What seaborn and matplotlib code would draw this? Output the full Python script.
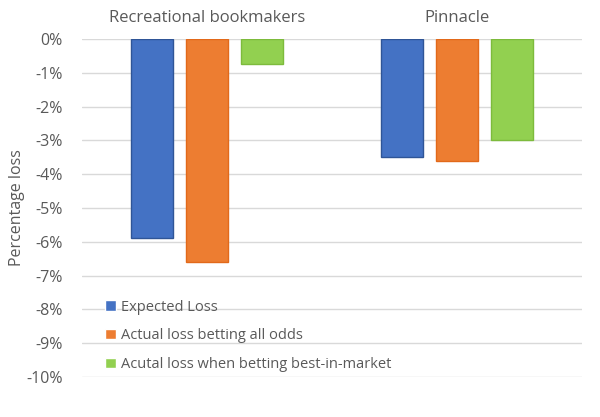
import pandas as pd
import seaborn as sns
import matplotlib.pyplot as plt
from matplotlib.ticker import FuncFormatter

groups = ['Recreational bookmakers', 'Pinnacle']
series = ['Expected Loss', 'Actual loss betting all odds', 'Acutal loss when betting best-in-market']
expected_loss = [-5.9, -3.5]
actual_loss = [-6.6, -3.6]
best_loss = [-0.75, -3.0]

colors = ['#4472C4', '#ED7D31', '#92D050']
edges = ['#2F5597', '#E2691A', '#7DBB3C']

rows = []
for name, vals in zip(series, [expected_loss, actual_loss, best_loss]):
    for g, v in zip(groups, vals):
        rows.append({'group': g, 'series': name, 'loss': v})
df = pd.DataFrame(rows)

sns.set_style('white')
plt.rcParams['font.family'] = ['Open Sans', 'DejaVu Sans']
text_col = '#595959'

fig = plt.figure(figsize=(6, 4.17), dpi=100)
ax = fig.add_axes([0.137, 0.096, 0.833, 0.8105])

sns.barplot(data=df, x='group', y='loss', hue='series', palette=colors,
            saturation=1, width=0.66, gap=0.24, ax=ax, linewidth=1)
for cont, ec in zip(ax.containers, edges):
    for bar in cont:
        bar.set_edgecolor(ec)

ax.set_ylim(-10, 0)
ax.set_yticks(range(-10, 1))
ax.yaxis.set_major_formatter(FuncFormatter(lambda v, p: f'{int(round(v))}%'))
ax.grid(axis='y', color='#d9d9d9', linewidth=1)
ax.set_axisbelow(True)
ax.xaxis.tick_top()
ax.tick_params(axis='x', length=0, pad=9, labelsize=12, colors=text_col)
ax.tick_params(axis='y', length=0, pad=14, labelsize=11.5, colors=text_col)
for s in ax.spines.values():
    s.set_visible(False)
ax.set_xlabel('')
ax.set_ylabel('Percentage loss', fontsize=11.5, color=text_col, labelpad=1)

leg = ax.legend(loc='lower left', bbox_to_anchor=(0.02, -0.025), frameon=False,
                fontsize=10.5, handlelength=0.7, handleheight=0.7,
                labelspacing=0.95, handletextpad=0.35)
for t in leg.get_texts():
    t.set_color(text_col)

fig.savefig('out.png', dpi=100)
